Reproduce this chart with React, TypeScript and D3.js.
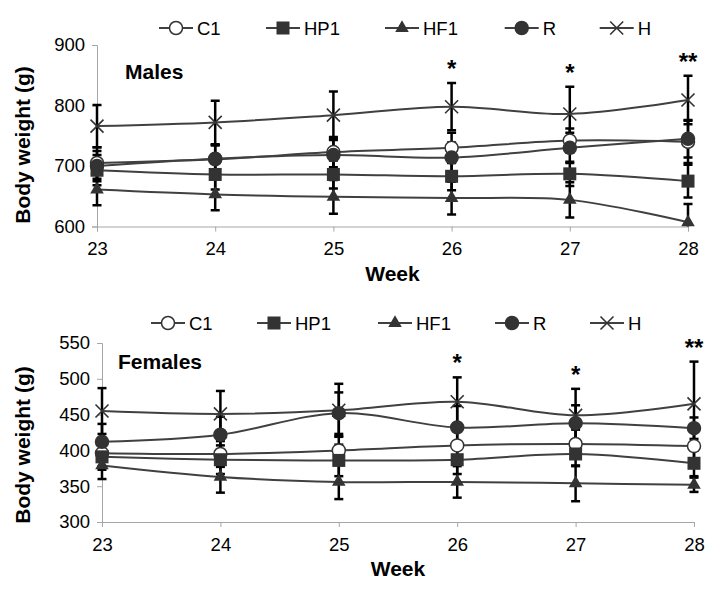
import React, { useEffect, useRef } from "react";
import * as d3 from "d3";

// weeks on the x axis
const weeks = [23, 24, 25, 26, 27, 28];
const seriesNames = ["C1", "HP1", "HF1", "R", "H"];

// Males, mean body weight (g)
const maleC1 = [705, 711, 723, 730, 742, 740];
const maleHP1 = [693, 686, 686, 683, 687, 675];
const maleHF1 = [661, 653, 649, 647, 644, 607];
const maleR = [700, 712, 718, 714, 730, 745];
const maleH = [766, 772, 784, 798, 786, 809];
// Males, SD
const maleC1Sd = [26, 24, 25, 25, 20, 35];
const maleHP1Sd = [25, 25, 23, 23, 20, 27];
const maleHF1Sd = [26, 26, 28, 27, 29, 30];
const maleRSd = [25, 22, 25, 25, 25, 31];
const maleHSd = [35, 36, 39, 39, 45, 40];
const maleSig = ["", "", "", "*", "*", "**"];
const maleTicks = [600, 700, 800, 900];

// Females, mean body weight (g)
const femaleC1 = [396, 395, 400, 407, 409, 406];
const femaleHP1 = [391, 387, 386, 387, 395, 382];
const femaleHF1 = [379, 363, 356, 356, 354, 352];
const femaleR = [412, 422, 452, 432, 438, 431];
const femaleH = [455, 451, 456, 468, 449, 465];
// Females, SD
const femaleC1Sd = [18, 18, 20, 22, 20, 20];
const femaleHP1Sd = [18, 20, 22, 20, 17, 18];
const femaleHF1Sd = [19, 22, 24, 22, 25, 10];
const femaleRSd = [25, 25, 29, 30, 25, 15];
const femaleHSd = [32, 32, 37, 34, 37, 59];
const femaleSig = ["", "", "", "*", "*", "**"];
const femaleTicks = [300, 350, 400, 450, 500, 550];

const markerTypes = ["openCircle", "square", "triangle", "circle", "cross"];

const FONT = "'Liberation Sans', Arial, sans-serif";
const LINE = "#404040";
const MARK = "#333333";

type Panel = {
  label: string;
  means: number[][];
  sds: number[][];
  sig: string[];
  ticks: number[];
  x0: number;
  x1: number;
  yTop: number;
  yBot: number;
  legendY: number;
  legendX: number[];
  labelX: number;
  labelY: number;
  titleY: number;
};

const panels: Panel[] = [
  {
    label: "Males",
    means: [maleC1, maleHP1, maleHF1, maleR, maleH],
    sds: [maleC1Sd, maleHP1Sd, maleHF1Sd, maleRSd, maleHSd],
    sig: maleSig,
    ticks: maleTicks,
    x0: 97,
    x1: 688,
    yTop: 45,
    yBot: 226.5,
    legendY: 28,
    legendX: [176, 283, 402, 521.7, 616.7],
    labelX: 125,
    labelY: 79,
    titleY: 145,
  },
  {
    label: "Females",
    means: [femaleC1, femaleHP1, femaleHF1, femaleR, femaleH],
    sds: [femaleC1Sd, femaleHP1Sd, femaleHF1Sd, femaleRSd, femaleHSd],
    sig: femaleSig,
    ticks: femaleTicks,
    x0: 102,
    x1: 694,
    yTop: 343,
    yBot: 522,
    legendY: 323,
    legendX: [168, 274, 395, 512, 607],
    labelX: 118,
    labelY: 369,
    titleY: 445,
  },
];

function drawMarker(g: any, type: string, x: number, y: number) {
  if (type === "openCircle" || type === "circle") {
    g.append("circle")
      .attr("cx", x)
      .attr("cy", y)
      .attr("r", 6.5)
      .attr("fill", type === "circle" ? MARK : "#fff")
      .attr("stroke", MARK)
      .attr("stroke-width", 1.5);
  } else if (type === "square") {
    g.append("rect")
      .attr("x", x - 6.5)
      .attr("y", y - 6.5)
      .attr("width", 13)
      .attr("height", 13)
      .attr("fill", MARK);
  } else if (type === "triangle") {
    g.append("path")
      .attr("d", d3.symbol(d3.symbolTriangle, 80)() as string)
      .attr("transform", `translate(${x},${y})`)
      .attr("fill", MARK);
  } else {
    g.append("path")
      .attr("d", `M${x - 6.5},${y - 6.5}L${x + 6.5},${y + 6.5}M${x - 6.5},${y + 6.5}L${x + 6.5},${y - 6.5}`)
      .attr("stroke", MARK)
      .attr("stroke-width", 1.6)
      .attr("fill", "none");
  }
}

function drawPanel(svg: any, p: Panel, idx: number) {
  const x = d3.scaleLinear().domain([weeks[0], weeks[weeks.length - 1]]).range([p.x0, p.x1]);
  const y = d3
    .scaleLinear()
    .domain([p.ticks[0], p.ticks[p.ticks.length - 1]])
    .range([p.yBot, p.yTop]);

  const g = svg.append("g");

  // clip for error bars
  const clipId = `clip-${idx}`;
  g.append("clipPath")
    .attr("id", clipId)
    .append("rect")
    .attr("x", p.x0 - 20)
    .attr("y", 0)
    .attr("width", p.x1 - p.x0 + 40)
    .attr("height", p.yBot);

  // axes
  const yAxis = g
    .append("g")
    .attr("transform", `translate(${p.x0},0)`)
    .call(d3.axisLeft(y).tickValues(p.ticks).tickSizeOuter(0).tickSize(5).tickPadding(8));
  const xAxis = g
    .append("g")
    .attr("transform", `translate(0,${p.yBot})`)
    .call(d3.axisBottom(x).tickValues(weeks).tickFormat(d3.format("d")).tickSizeOuter(0).tickSize(5).tickPadding(6));
  [yAxis, xAxis].forEach((a) => {
    a.selectAll("path, line").attr("stroke", "#a6a6a6").attr("stroke-width", 1);
    a.selectAll("text").attr("fill", "#000").style("font-family", FONT).style("font-size", "18.5px");
  });
  xAxis.selectAll("text").attr("dy", "0.95em");
  yAxis.selectAll("text").attr("x", -12);

  // error bars
  const eb = g.append("g").attr("clip-path", `url(#${clipId})`);
  p.means.forEach((m, si) => {
    m.forEach((v, i) => {
      const sd = p.sds[si][i];
      const cx = x(weeks[i]);
      const yHi = y(v + sd);
      const yLo = y(v - sd);
      eb.append("line").attr("x1", cx).attr("x2", cx).attr("y1", yHi).attr("y2", yLo).attr("stroke", "#000").attr("stroke-width", 2.5);
      [yHi, yLo].forEach((yy) =>
        eb.append("line").attr("x1", cx - 4.5).attr("x2", cx + 4.5).attr("y1", yy).attr("y2", yy).attr("stroke", "#000").attr("stroke-width", 2.5)
      );
    });
  });

  // lines
  const line = d3
    .line<number>()
    .x((_, i) => x(weeks[i]))
    .y((d) => y(d))
    .curve(d3.curveCardinal.tension(0));
  p.means.forEach((m) => {
    g.append("path").datum(m).attr("d", line).attr("fill", "none").attr("stroke", LINE).attr("stroke-width", 2);
  });

  // markers
  p.means.forEach((m, si) => {
    m.forEach((v, i) => drawMarker(g, markerTypes[si], x(weeks[i]), y(v)));
  });

  // significance
  p.sig.forEach((s, i) => {
    if (!s) return;
    const top = y(p.means[4][i] + p.sds[4][i]);
    g.append("text")
      .attr("x", x(weeks[i]))
      .attr("y", top - 6)
      .attr("text-anchor", "middle")
      .style("font-family", FONT)
      .style("font-size", "24px")
      .style("font-weight", "bold")
      .text(s);
  });

  // panel label
  g.append("text")
    .attr("x", p.labelX)
    .attr("y", p.labelY)
    .style("font-family", FONT)
    .style("font-size", "21px")
    .style("font-weight", "bold")
    .text(p.label);

  // axis titles
  g.append("text")
    .attr("transform", `translate(30,${p.titleY}) rotate(-90)`)
    .attr("text-anchor", "middle")
    .style("font-family", FONT)
    .style("font-size", "21px")
    .style("font-weight", "bold")
    .text("Body weight (g)");
  g.append("text")
    .attr("x", (p.x0 + p.x1) / 2)
    .attr("y", p.yBot + 54)
    .attr("text-anchor", "middle")
    .style("font-family", FONT)
    .style("font-size", "21px")
    .style("font-weight", "bold")
    .text("Week");

  // legend
  seriesNames.forEach((name, si) => {
    const lx = p.legendX[si];
    const ly = p.legendY;
    g.append("line").attr("x1", lx - 17).attr("x2", lx + 17).attr("y1", ly).attr("y2", ly).attr("stroke", LINE).attr("stroke-width", 2);
    drawMarker(g, markerTypes[si], lx, ly);
    g.append("text")
      .attr("x", lx + 21)
      .attr("y", ly + 6.5)
      .style("font-family", FONT)
      .style("font-size", "18.5px")
      .text(name);
  });
}

export default function App() {
  const svgRef = useRef<SVGSVGElement>(null);

  useEffect(() => {
    if (!svgRef.current) return;
    const svg = d3.select(svgRef.current);
    svg.selectAll("*").remove();
    svg.append("rect").attr("width", 716).attr("height", 592).attr("fill", "#fff");
    panels.forEach((p, i) => drawPanel(svg, p, i));
  }, []);

  return (
    <div style={{ position: "absolute", left: 0, top: 0 }}>
      <svg ref={svgRef} width={716} height={592} style={{ display: "block" }} />
    </div>
  );
}
